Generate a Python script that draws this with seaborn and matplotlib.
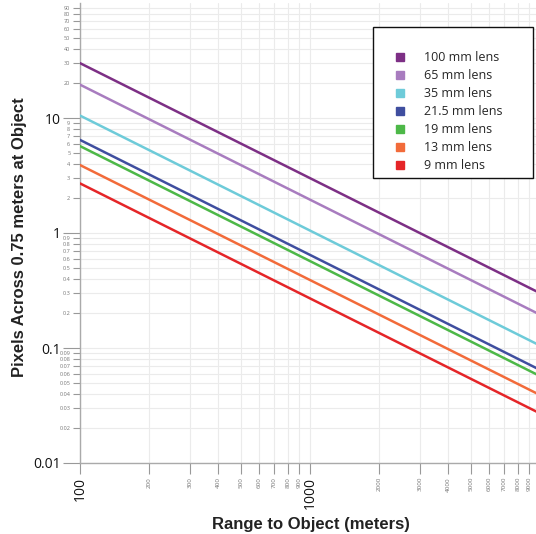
import matplotlib
matplotlib.use("Agg")
import matplotlib.pyplot as plt
from matplotlib.lines import Line2D
from matplotlib.patches import Rectangle
from matplotlib.ticker import FixedLocator
import seaborn as sns
import pandas as pd

lenses = ["100 mm lens", "65 mm lens", "35 mm lens", "21.5 mm lens", "19 mm lens", "13 mm lens", "9 mm lens"]
colors = ["#7d2f85", "#a87cbf", "#6ecbd9", "#3f4e9f", "#4db848", "#f26b3a", "#e52528"]
ranges = [100, 10000]
px_at_100 = [30.0, 19.5, 10.5, 6.45, 5.7, 3.9, 2.7]
px_at_10000 = [0.30, 0.195, 0.105, 0.0645, 0.057, 0.039, 0.027]

y_major = [0.01, 0.1, 1, 10]
y_major_labels = ["0.01", "0.1", "1", "10"]
y_minor = [0.02, 0.03, 0.04, 0.05, 0.06, 0.07, 0.08, 0.09,
           0.2, 0.3, 0.4, 0.5, 0.6, 0.7, 0.8, 0.9,
           2, 3, 4, 5, 6, 7, 8, 9,
           20, 30, 40, 50, 60, 70, 80, 90]
y_minor_labels = ["0.02", "0.03", "0.04", "0.05", "0.06", "0.07", "0.08", "0.09",
                  "0.2", "0.3", "0.4", "0.5", "0.6", "0.7", "0.8", "0.9",
                  "2", "3", "4", "5", "6", "7", "8", "9",
                  "20", "30", "40", "50", "60", "70", "80", "90"]
x_major = [100, 1000]
x_major_labels = ["100", "1000"]
x_minor = [200, 300, 400, 500, 600, 700, 800, 900,
           2000, 3000, 4000, 5000, 6000, 7000, 8000, 9000]
x_minor_labels = ["200", "300", "400", "500", "600", "700", "800", "900",
                  "2000", "3000", "4000", "5000", "6000", "7000", "8000", "9000"]

rows = []
for name, a, b in zip(lenses, px_at_100, px_at_10000):
    rows.append({"Range": ranges[0], "Pixels": a, "Lens": name})
    rows.append({"Range": ranges[1], "Pixels": b, "Lens": name})
df = pd.DataFrame(rows)

sns.set_theme(style="white")
plt.rcParams["font.family"] = ["Open Sans", "DejaVu Sans"]

W, H = 536, 534
fig = plt.figure(figsize=(W / 100, H / 100), dpi=100)
ax = fig.add_axes([80 / W, 71 / H, 460 / W, 460 / H])
ax.set_xscale("log")
ax.set_yscale("log")

sns.lineplot(data=df, x="Range", y="Pixels", hue="Lens", hue_order=lenses,
             palette=colors, linewidth=1.8, legend=False, ax=ax, zorder=3)

ax.set_xlim(100, 10000)
ax.set_ylim(0.01, 100)

grid_c = "#ebebeb"
for v in y_major + y_minor:
    ax.axhline(v, color=grid_c, lw=0.8, zorder=0)
for v in x_major + x_minor:
    ax.axvline(v, color=grid_c, lw=0.8, zorder=0)

ax.yaxis.set_major_locator(FixedLocator(y_major))
ax.set_yticklabels(y_major_labels)
ax.set_yticks(y_minor, labels=y_minor_labels, minor=True)
ax.xaxis.set_major_locator(FixedLocator(x_major))
ax.set_xticklabels(x_major_labels)
ax.set_xticks(x_minor, labels=x_minor_labels, minor=True)

ax.tick_params(axis="y", which="major", length=12, width=0.8, color="#999999",
               labelsize=10, labelcolor="#111111", pad=2, left=True)
ax.tick_params(axis="y", which="minor", length=5, width=0.8, color="#999999",
               labelsize=4, labelcolor="#777777", pad=2, left=True)
ax.tick_params(axis="x", which="major", length=8, width=0.8, color="#999999",
               labelsize=10, labelcolor="#111111", labelrotation=90, pad=2, bottom=True)
ax.tick_params(axis="x", which="minor", length=8, width=0.8, color="#999999",
               labelsize=4.5, labelcolor="#777777", labelrotation=90, pad=2, bottom=True)

for s in ["top", "right"]:
    ax.spines[s].set_visible(False)
for s in ["left", "bottom"]:
    ax.spines[s].set_color("#aaaaaa")
    ax.spines[s].set_linewidth(1.0)

ax.set_xlabel("")
ax.set_ylabel("")
fig.text(311 / W, 1 - 524 / H, "Range to Object (meters)", fontsize=12, fontweight="bold",
         family=["Liberation Sans", "DejaVu Sans"], color="#222222", ha="center", va="center")
fig.text(20 / W, 1 - 237 / H, "Pixels Across 0.75 meters at Object", fontsize=12,
         fontweight="bold", family=["Liberation Sans", "DejaVu Sans"], color="#222222",
         ha="center", va="center", rotation=90)

# legend box
fig.patches.append(Rectangle((373 / W, 1 - 178 / H), 160 / W, 151 / H,
                             transform=fig.transFigure, facecolor="white",
                             edgecolor="#111111", linewidth=1.0, zorder=4))
handles = [Line2D([0], [0], marker="s", linestyle="none", markersize=6,
                  markerfacecolor=c, markeredgecolor=c) for c in colors]
leg = fig.legend(handles, lenses, loc="upper left",
                 bbox_to_anchor=(394 / W, 1 - 51 / H),
                 frameon=False, fontsize=9, handletextpad=1.4,
                 labelspacing=0.4, borderpad=0, borderaxespad=0, handlelength=1.0)
leg.set_zorder(5)

fig.savefig("out.png", dpi=100)
